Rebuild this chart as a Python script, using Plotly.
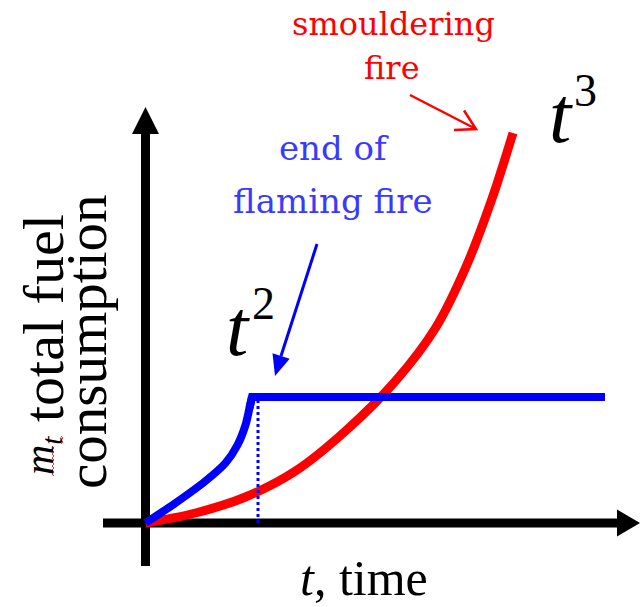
import plotly.graph_objects as go

# ---- data (chart units: time offset, fuel consumption; origin at axes crossing) ----
smoulder_t = [0, 50, 100, 150, 200, 250, 290, 320, 345, 367.5]
smoulder_m = [0, 10, 26, 52, 92, 142, 195, 255, 320, 390]

# flaming fire: growth phase then plateau after end of flaming
flaming_t = [0, 30, 60, 80, 92, 100, 104, 106.5, 459.5]
flaming_m = [0, 20, 42, 60, 78, 98, 115, 126, 126]
CORNER = 7  # index where the plateau starts

end_flaming_t = [112.5, 112.5]
end_flaming_m = [0, 126]

# origin position in the 640x607 picture
OX, OY = 145.5, 523.0
def X(px): return px - OX
def Y(py): return OY - py

fig = go.Figure()

fig.add_trace(go.Scatter(x=smoulder_t, y=smoulder_m, mode="lines",
                         line=dict(color="#ff0000", width=9, shape="spline", smoothing=1.0),
                         hoverinfo="skip", showlegend=False))
fig.add_trace(go.Scatter(x=end_flaming_t, y=end_flaming_m, mode="lines",
                         line=dict(color="#0000ff", width=3, dash="3px,3px"),
                         hoverinfo="skip", showlegend=False))
fig.add_trace(go.Scatter(x=flaming_t[:CORNER + 1], y=flaming_m[:CORNER + 1], mode="lines",
                         line=dict(color="#0000ff", width=8, shape="spline", smoothing=0.8),
                         hoverinfo="skip", showlegend=False))
fig.add_trace(go.Scatter(x=flaming_t[CORNER - 1:], y=flaming_m[CORNER - 1:], mode="lines",
                         line=dict(color="#0000ff", width=8),
                         hoverinfo="skip", showlegend=False))

shapes = []
# axes
shapes.append(dict(type="line", x0=X(145.5), x1=X(145.5), y0=Y(566), y1=Y(132),
                   line=dict(color="black", width=9), layer="below"))
shapes.append(dict(type="path",
                   path=f"M {X(145.5)},{Y(107)} L {X(132)},{Y(134)} L {X(159)},{Y(134)} Z",
                   fillcolor="black", line=dict(width=0), layer="below"))
shapes.append(dict(type="line", x0=X(103), x1=X(619), y0=Y(523), y1=Y(523),
                   line=dict(color="black", width=9), layer="below"))
shapes.append(dict(type="path",
                   path=f"M {X(640)},{Y(523)} L {X(617)},{Y(509.5)} L {X(617)},{Y(536.5)} Z",
                   fillcolor="black", line=dict(width=0), layer="below"))
# red open arrow
shapes.append(dict(type="path",
                   path=f"M {X(410)},{Y(95)} L {X(476)},{Y(129)} M {X(464)},{Y(110.5)} L {X(476)},{Y(129)} L {X(454)},{Y(130)}",
                   line=dict(color="#ff0000", width=2.5)))
# blue filled arrow
shapes.append(dict(type="line", x0=X(317), y0=Y(244), x1=X(281), y1=Y(356),
                   line=dict(color="#0000ff", width=3)))
shapes.append(dict(type="path",
                   path=f"M {X(275)},{Y(376)} L {X(289.7)},{Y(358.7)} L {X(272.5)},{Y(353.3)} Z",
                   fillcolor="#0000ff", line=dict(width=0)))
# red spell-check squiggle under m_t
zig = " ".join(("M" if i == 0 else "L") + f" {X(52 + 2 * (i % 2))},{Y(446 + 2 * i)}" for i in range(16))
shapes.append(dict(type="path", path=zig, line=dict(color="#ff3030", width=1)))
zig2 = " ".join(("M" if i == 0 else "L") + f" {X(61 + 2 * (i % 2))},{Y(436 + 2 * i)}" for i in range(5))
shapes.append(dict(type="path", path=zig2, line=dict(color="#ff3030", width=1)))

ann = []
def txt(s, px, py, size, color="black", family="Liberation Serif", angle=0):
    ann.append(dict(text=s, x=X(px), y=Y(py), xref="x", yref="y", showarrow=False,
                    xanchor="center", yanchor="middle", textangle=angle,
                    font=dict(size=size, color=color, family=family)))

txt("smouldering", 393, 24, 32, "#ff0000", "DejaVu Serif")
txt("fire", 392, 68, 32, "#ff0000", "DejaVu Serif")
txt("end of", 334, 148, 34, "#3a3aff", "DejaVu Serif")
txt("flaming fire", 333, 201, 34, "#3a3aff", "DejaVu Serif")
txt("<i>t</i>", 561, 115, 80)
txt("3", 585, 90, 46)
txt("<i>t</i>", 238, 328, 80)
txt("2", 263, 303, 46)
txt("<i>t</i>, time", 364, 578, 50)
txt("<i>m</i><sub><i>t</i></sub>", 42, 456, 42, angle=-90)
txt("total fuel", 43, 318, 58, angle=-90)
txt("consumption", 86, 342, 57, angle=-90)

fig.update_layout(
    width=640, height=607,
    margin=dict(l=0, r=0, t=0, b=0),
    paper_bgcolor="white", plot_bgcolor="white",
    xaxis=dict(range=[X(0), X(640)], visible=False, fixedrange=True),
    yaxis=dict(range=[Y(607), Y(0)], visible=False, fixedrange=True),
    shapes=shapes, annotations=ann, showlegend=False,
)

fig.write_html("out.html", config={"displayModeBar": False},
               post_script="document.body.style.margin='0';document.body.style.overflow='hidden';")
